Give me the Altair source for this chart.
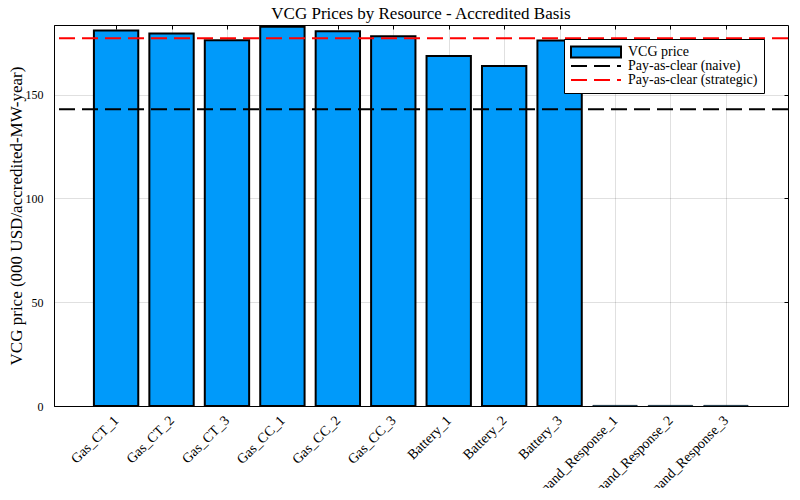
import altair as alt
import pandas as pd

names = ["Gas_CT_1", "Gas_CT_2", "Gas_CT_3", "Gas_CC_1", "Gas_CC_2", "Gas_CC_3",
         "Battery_1", "Battery_2", "Battery_3",
         "Demand_Response_1", "Demand_Response_2", "Demand_Response_3"]
vcg_price = [180.8, 179.4, 176.1, 182.7, 180.5, 178.1, 168.6, 163.8, 176.0, 0.3, 0.3, 0.3]
line_names = ["Pay-as-clear (naive)", "Pay-as-clear (strategic)"]
line_values = [142.9, 177.1]
y_ticks = [0, 50, 100, 150]

bar_series = "VCG price"
legend_domain = [bar_series] + line_names
legend_strokes = ["transparent", "black", "red"]
bar_color = "#009AFA"

bars_df = pd.DataFrame({"idx": list(range(len(names))), "name": names,
                        "price": vcg_price, "series": bar_series})
lines_df = pd.DataFrame({"series": line_names, "value": line_values})

FONT = "Liberation Serif"
LX, LY = 510, 14

xscale = alt.Scale(domain=[-1.12, 12.12], nice=False, zero=False)
yscale = alt.Scale(domain=[0, 183.5], nice=False)
x_ticks = list(range(len(names)))

label_expr = "[" + ",".join("'%s'" % n for n in names) + "][datum.value]"

# legend of the lines (also carries the text of all three rows and the box)
line_legend = alt.Legend(
    title=None, orient="none", legendX=LX, legendY=LY, zindex=1,
    fillColor="white", strokeColor="black", padding=6, cornerRadius=0,
    labelFont=FONT, labelFontSize=14, labelColor="black",
    symbolType="M-5,0H5", symbolSize=100, symbolOffset=19, labelOffset=25,
    symbolStrokeWidth=2, symbolDash=[16, 7], symbolOpacity=1,
)
# legend of the bars (symbol only, drawn over the first row)
bar_legend = alt.Legend(
    title=None, orient="none", legendX=LX, legendY=LY, zindex=2,
    padding=6, cornerRadius=0,
    labelFont=FONT, labelFontSize=14, labelColor="transparent",
    symbolType="M-5,-1.1H5V1.1H-5Z", symbolSize=100, symbolOffset=19, labelOffset=25,
    symbolStrokeWidth=2, symbolStrokeColor="black", symbolOpacity=1,
)

bars = alt.Chart(bars_df).transform_calculate(
    lo="datum.idx - 0.4", hi="datum.idx + 0.4"
).mark_bar(stroke="black", opacity=1).encode(
    x=alt.X("lo:Q", scale=xscale, title=None,
            axis=alt.Axis(values=x_ticks, labelExpr=label_expr,
                          labelAngle=315, labelAlign="right", labelBaseline="middle",
                          labelPadding=12, tickSize=0, grid=True, gridColor="#000000",
                          gridOpacity=0.12, domainColor="black", labelFont=FONT,
                          labelFontSize=14, labelColor="black", labelOverlap=False)),
    x2="hi:Q",
    y=alt.Y("price:Q", scale=yscale, title="VCG price (000 USD/accredited-MW-year)",
            axis=alt.Axis(values=y_ticks, tickSize=0, labelPadding=11,
                          grid=True, gridColor="#000000", gridOpacity=0.12,
                          domainColor="black", labelFont=FONT, labelFontSize=12,
                          labelColor="black", titleFont=FONT, titleFontSize=17,
                          titleFontWeight="normal", titleColor="black", titlePadding=0)),
    y2=alt.Y2(datum=0),
    fill=alt.Fill("series:N", scale=alt.Scale(domain=[bar_series], range=[bar_color]),
                  legend=bar_legend),
    strokeWidth=alt.condition("datum.price < 1", alt.value(1), alt.value(2)),
    strokeOpacity=alt.condition("datum.price < 1", alt.value(0.6), alt.value(1)),
)

rules = alt.Chart(lines_df).mark_rule(strokeDash=[16, 7], strokeWidth=2).encode(
    y=alt.Y("value:Q", scale=yscale, axis=None),
    stroke=alt.Stroke("series:N", scale=alt.Scale(domain=legend_domain, range=legend_strokes),
                      legend=line_legend),
)

# mirrored inside ticks on the top and right frame edges
frame_ticks = alt.Chart(bars_df).mark_point(opacity=0).encode(
    x=alt.X("idx:Q", scale=xscale, title=None,
            axis=alt.Axis(orient="top", offset=-4, values=x_ticks, tickSize=4,
                          tickColor="black", tickWidth=1, labels=False, domain=False,
                          grid=False)),
    y=alt.Y("price:Q", scale=yscale, title=None,
            axis=alt.Axis(orient="right", offset=-4, values=y_ticks, tickSize=4,
                          tickColor="black", tickWidth=1, labels=False, domain=False,
                          grid=False)),
)

chart = alt.layer(bars, rules, frame_ticks).resolve_axis(
    x="independent", y="independent"
).properties(
    width=734, height=381,
    title=alt.TitleParams("VCG Prices by Resource - Accredited Basis", font=FONT,
                          fontSize=17, fontWeight="normal", color="black",
                          anchor="middle", offset=1),
    autosize=alt.AutoSizeParams(type="none"),
    padding={"left": 46, "top": 17, "right": 4, "bottom": 82},
).configure_view(stroke="black", strokeWidth=1).configure_legend(rowPadding=-3.5)

chart.save("out.html", embed_options={"renderer": "svg", "actions": False})
